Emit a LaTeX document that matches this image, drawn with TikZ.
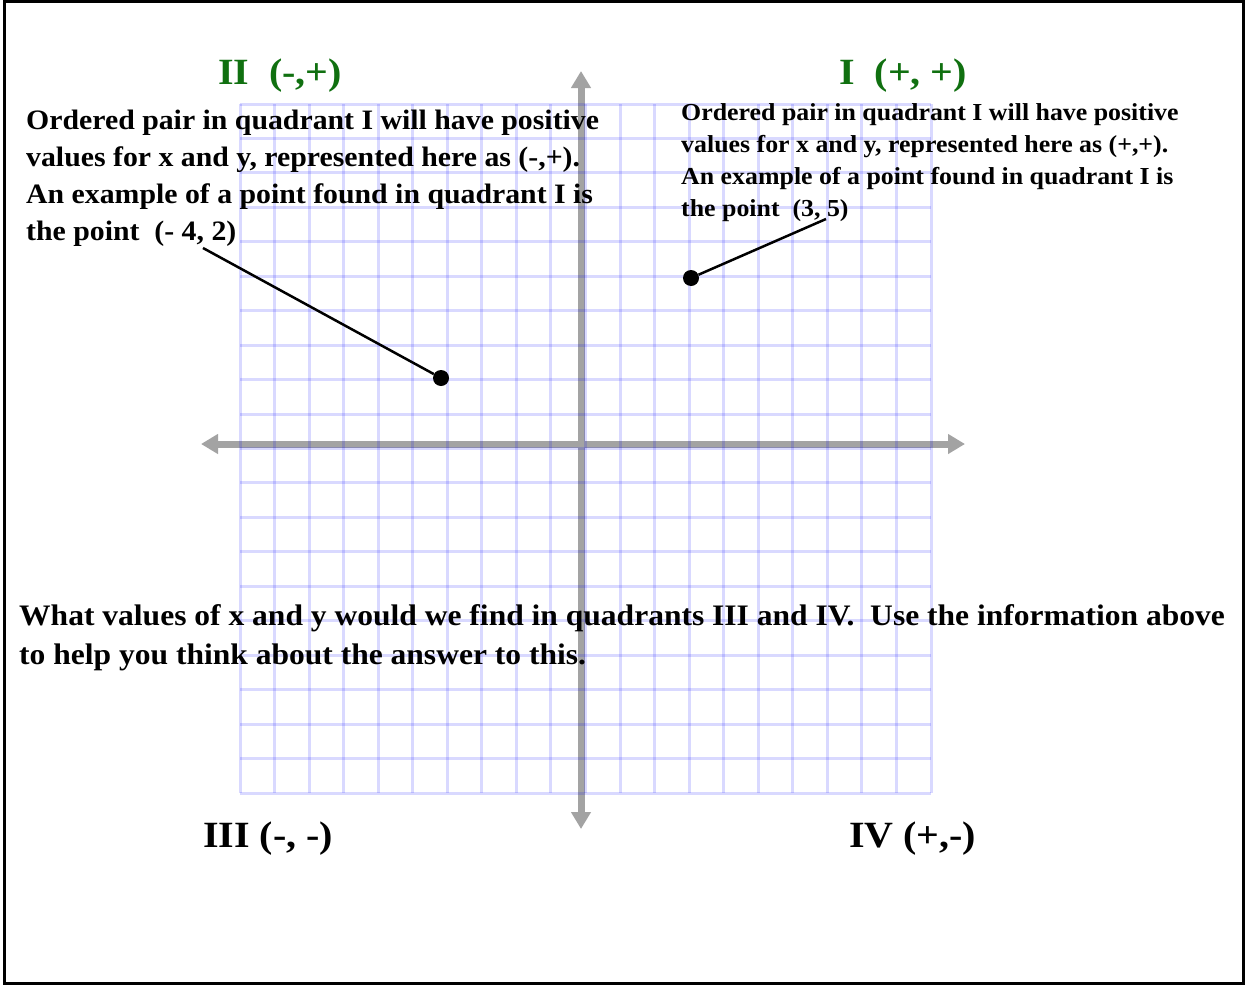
\documentclass[tikz,border=0pt]{standalone}
\usepackage{fontspec}
\setmainfont{Liberation Serif}
\newfontfamily\bodyfont[FakeStretch=1.06]{Liberation Serif}
\newfontfamily\headfont[FakeStretch=1.08]{Liberation Serif}
\usetikzlibrary{arrows.meta}
\definecolor{headgreen}{RGB}{16,112,16}
\definecolor{axisgray}{RGB}{163,163,163}
\begin{document}
\begin{tikzpicture}[x=1pt,y=-1pt,
  gridline/.style={line width=3pt,draw=blue,draw opacity=0.15},
  axisline/.style={line width=7pt,draw=axisgray,
    {Triangle[length=17pt,width=19pt]}-{Triangle[length=17pt,width=19pt]}},
  dotmark/.style={circle,fill=black,inner sep=0pt,minimum size=16pt},
  leader/.style={line width=2.5pt,draw=black},
  heading/.style={anchor=base west,inner sep=0pt,font=\headfont\bfseries\fontsize{37}{44}\selectfont},
  bodytext/.style={anchor=base west,inner sep=0pt}
]
\useasboundingbox (0,0) rectangle (1247,985);
\draw[line width=3pt] (4.5,1.5) rectangle (1243,983.5);
% axes
\draw[axisline] (581,71) -- (581,829);
\draw[axisline] (201,444) -- (965,444);
% grid
\foreach \i in {0,...,20}{
  \draw[gridline] ({240+\i*34.55},104) -- ({240+\i*34.55},793);
  \draw[gridline] (240,{104+\i*34.45}) -- (931,{104+\i*34.45});
}
% headings
\node[heading,text=headgreen] (q2) at (218,84) {II\ \ (-,+)};
\node[heading,text=headgreen] (q1) at (839,84) {I\ \ (+, +)};
\node[heading] (q3) at (203,847) {III (-, -)};
\node[heading] (q4) at (849,847) {IV (+,-)};
% left text
\node[bodytext] (lefttext) at (26,129) {\bodyfont\bfseries\fontsize{28.1}{37}\selectfont
  \begin{tabular}[t]{@{}l@{}}
  Ordered pair in quadrant I will have positive\\
  values for x and y, represented here as (-,+).\\
  An example of a point found in quadrant I is\\
  the point\ \ (- 4, 2)
  \end{tabular}};
% right text
\node[bodytext] (righttext) at (681,120) {\bodyfont\bfseries\fontsize{24.4}{32}\selectfont
  \begin{tabular}[t]{@{}l@{}}
  Ordered pair in quadrant I will have positive\\
  values for x and y, represented here as (+,+).\\
  An example of a point found in quadrant I is\\
  the point\ \ (3, 5)
  \end{tabular}};
% bottom text
\node[bodytext] (question) at (19,625) {\bodyfont\bfseries\fontsize{29.75}{39.5}\selectfont
  \begin{tabular}[t]{@{}l@{}}
  What values of x and y would we find in quadrants III and IV.\ \ Use the information above\\
  to help you think about the answer to this.
  \end{tabular}};
% points and leaders
\node[dotmark] (pa) at (441,378) {};
\coordinate (paend) at (203,248);
\draw[leader] (pa) -- (paend);
\node[dotmark] (pb) at (691,278) {};
\coordinate (pbend) at (826,219);
\draw[leader] (pb) -- (pbend);
\end{tikzpicture}
\end{document}
